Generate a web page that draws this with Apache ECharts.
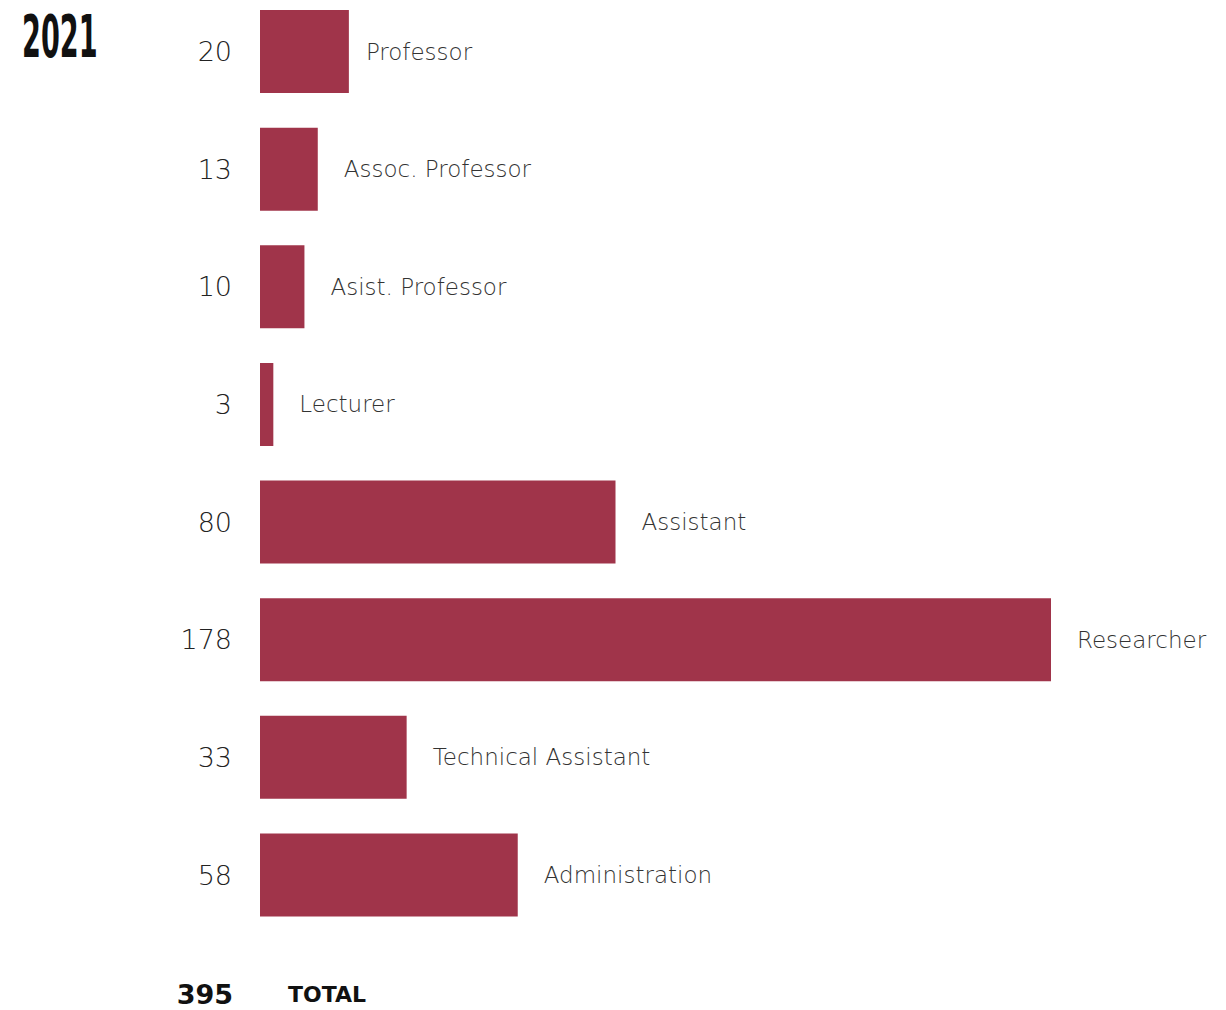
<!DOCTYPE html>
<html><head><meta charset="utf-8">
<script src="https://cdn.jsdelivr.net/npm/echarts@6/dist/echarts.min.js"></script>
<style>html,body{margin:0;padding:0;background:#fff}#c{width:1226px;height:1010px}</style>
</head><body><div id="c"></div>
<script>
const categories = ['Professor','Assoc. Professor','Asist. Professor','Lecturer','Assistant','Researcher','Technical Assistant','Administration'];
const values = [20,13,10,3,80,178,33,58];
const yearLabel = '2021';
const totalValue = 395;
const totalLabel = 'TOTAL';

const chart = echarts.init(document.getElementById('c'), null, {renderer:'svg'});
chart.setOption({
  animation:false,
  backgroundColor:'#fff',
  grid:{left:260, right:175, top:51.5, bottom:135},
  xAxis:{type:'value', min:0, max:178, show:false},
  yAxis:{type:'category', inverse:true, boundaryGap:false, data:categories,
    axisLine:{show:false}, axisTick:{show:false},
    axisLabel:{margin:28, fontFamily:'DejaVu Sans', fontWeight:200, fontSize:27, color:'#222',
      formatter:(v,i)=>String(values[i])}},
  series:[{type:'bar', clip:false,
    data:values.map((v,i)=>({value:v, label:{distance: i===0 ? 17 : 26}})),
    barWidth:83, itemStyle:{color:'#A0344A'},
    label:{show:true, position:'right', distance:26, formatter:'{b}',
      fontFamily:'DejaVu Sans', fontWeight:300, fontSize:23, color:'#333'}}],
  graphic:[
    {type:'text', left:22, top:8, scaleX:0.52, style:{text:yearLabel, font:'bold 58px "DejaVu Sans Condensed", "Liberation Sans Narrow", sans-serif', fill:'#111'}},
    {type:'text', x:233, y:994, style:{text:String(totalValue), font:'bold 27px "DejaVu Sans", sans-serif', fill:'#111', textAlign:'right', textVerticalAlign:'middle'}},
    {type:'text', x:288, y:994, style:{text:totalLabel, font:'bold 22px "DejaVu Sans", sans-serif', fill:'#111', textAlign:'left', textVerticalAlign:'middle'}}
  ]
});
</script></body></html>
